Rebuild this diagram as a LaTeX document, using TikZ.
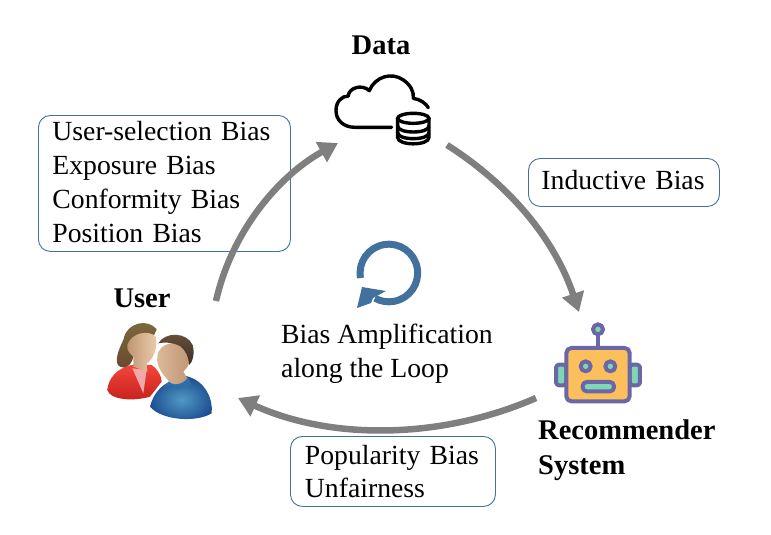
\documentclass[tikz,border=0pt]{standalone}
\usepackage{fontspec}
\setmainfont{Liberation Serif}
\usetikzlibrary{arrows.meta}
\definecolor{boxblue}{HTML}{41719C}
\definecolor{flowgray}{HTML}{7F7F7F}
\definecolor{robotline}{HTML}{6B66A6}
\definecolor{robotbody}{HTML}{FBBF5C}
\definecolor{robotgreen}{HTML}{7FD6B5}
\definecolor{redtop}{HTML}{F5453A}
\definecolor{redbot}{HTML}{C4201C}
\definecolor{pinkshirt}{HTML}{F2A8A8}
\definecolor{hairtop}{HTML}{7F6A3E}
\definecolor{hairbot}{HTML}{65492F}
\definecolor{skinlight}{HTML}{EFCFAE}
\definecolor{skindark}{HTML}{BD9572}
\definecolor{manskin}{HTML}{DDBA99}
\definecolor{blueinner}{HTML}{4F9AC4}
\definecolor{blueouter}{HTML}{1F4F92}
\definecolor{collarblue}{HTML}{2F6FA8}
\definecolor{manhairtop}{HTML}{6B5038}
\definecolor{manhairbot}{HTML}{3A2F28}
\tikzset{
  x=1pt,y=-1pt,
  tagbox/.style={draw=boxblue,line width=0.9pt,rounded corners=12pt,anchor=north west,align=left,inner sep=0pt,
    font=\fontsize{27.7}{33.8}\selectfont},
  plainlabel/.style={align=left,inner sep=0pt,font=\fontsize{27.7}{33.8}\selectfont},
  boldlabel/.style={align=left,inner sep=0pt,font=\bfseries\fontsize{28.5}{35}\selectfont},
  flow/.style={draw=flowgray,line width=6.5pt,-{Triangle[length=19pt,width=22pt]}},
  zoomed/.style={x=0.3333pt,y=-0.3333pt},
  robotpart/.style={draw=robotline,line width=4pt,line join=round},
  iconline/.style={black,line width=3.4pt},
}
\begin{document}
\begin{tikzpicture}
\useasboundingbox (0,0) rectangle (771,535);

% text boxes
\node[tagbox,minimum width=252pt,minimum height=136pt,text width=224pt] (selection) at (38,115)
  {User-selection Bias\\Exposure Bias\\Conformity Bias\\Position Bias\par\kern3pt};
\node[tagbox,minimum width=191pt,minimum height=48pt,text width=165pt] (inductive) at (528,158)
  {Inductive Bias\par\kern4pt};
\node[tagbox,minimum width=205pt,minimum height=70pt,text width=176pt] (popularity) at (290,436)
  {Popularity Bias\\Unfairness};

% labels
\node[boldlabel] (datalabel) at (381,45) {Data};
\node[boldlabel] (userlabel) at (142,298) {User};
\node[boldlabel,anchor=west] (reclabel) at (538,450) {Recommender\\System};
\node[plainlabel,anchor=west] (looplabel) at (281,354) {Bias Amplification\\along the Loop};

% connector ends
\coordinate (userOut) at (216,301);
\coordinate (dataIn) at (338,143);
\coordinate (dataOut) at (447,145);
\coordinate (recIn) at (579,312);
\coordinate (recOut) at (536,398);
\coordinate (userIn) at (238,398);
\draw[flow] (userOut) .. controls (232,230) and (280,175) .. (dataIn);
\draw[flow] (dataOut) .. controls (510,185) and (555,240) .. (recIn);
\draw[flow] (recOut) .. controls (440,440) and (330,440) .. (userIn);

% loop symbol
\draw[boxblue,line width=7pt] (360.5,278) arc[start angle=190,end angle=-119,radius=28.8pt];
\fill[boxblue] (357,308) -- (362,287) -- (386,291) -- (373,298) -- (371,303) -- cycle;

% data icon
\begin{scope}[shift={(320pt,-20pt)},zoomed]
  \draw[iconline,line cap=round,line join=round]
    (215,322) -- (105,322) .. controls (70,322) and (48,300) .. (48,272)
    .. controls (48,245) and (65,228) .. (85,228)
    .. controls (85,205) and (125,190) .. (148,212)
    .. controls (165,170) and (215,155) .. (250,180)
    .. controls (272,195) and (282,215) .. (280,235)
    .. controls (300,238) and (318,250) .. (325,263);
  \draw[iconline,fill=white] (233,295) -- (233,352) .. controls (233,378) and (327,378) .. (327,352) -- (327,295);
  \draw[iconline] (280,295) ellipse[x radius=47,y radius=15];
  \draw[iconline] (233,318) .. controls (233,342) and (327,342) .. (327,318);
  \draw[iconline] (233,338) .. controls (233,362) and (327,362) .. (327,338);
\end{scope}

% robot icon
\begin{scope}[shift={(530pt,-300pt)},zoomed]
  \draw[robotline,line width=4pt] (204,100) -- (204,143);
  \filldraw[robotpart,fill=robotgreen] (204,88) circle[radius=15];
  \filldraw[robotpart,fill=robotgreen,rounded corners=3pt] (78,194) rectangle (109,256);
  \filldraw[robotpart,fill=robotgreen,rounded corners=3pt] (299,194) rectangle (330,256);
  \filldraw[robotpart,fill=robotbody,rounded corners=5pt] (109,144) rectangle (299,304);
  \filldraw[robotpart,fill=robotgreen] (167,199) circle[radius=15];
  \filldraw[robotpart,fill=robotgreen] (241,199) circle[radius=15];
  \filldraw[robotpart,fill=robotgreen,rounded corners=4pt] (158,246) rectangle (252,274);
\end{scope}

% user icon
\begin{scope}[shift={(90pt,-300pt)},zoomed]
  % woman
  \shade[top color=redtop,bottom color=redbot]
    (52,270) .. controls (55,235) and (80,205) .. (125,195)
    -- (185,195) .. controls (205,210) and (215,230) .. (215,245)
    -- (180,290) .. controls (130,305) and (60,300) .. (52,270) -- cycle;
  \fill[pinkshirt] (127,205) -- (160,280) -- (170,210) -- cycle;
  \shade[top color=hairtop,bottom color=hairbot]
    (100,120) .. controls (110,65) and (175,55) .. (200,88)
    -- (190,110) -- (130,170) .. controls (125,195) and (105,210) .. (90,200)
    .. controls (70,190) and (85,150) .. (100,120) -- cycle;
  \shade[left color=skindark,right color=skinlight]
    (112,135) .. controls (125,95) and (180,90) .. (197,110)
    .. controls (205,140) and (190,180) .. (170,190)
    -- (172,215) -- (130,200) -- (130,170) .. controls (118,160) and (110,150) .. (112,135) -- cycle;
  % man
  \shade[inner color=blueinner,outer color=blueouter]
    (180,320) .. controls (190,280) and (215,255) .. (240,245)
    -- (295,230) .. controls (345,245) and (370,295) .. (365,340)
    .. controls (320,368) and (215,362) .. (180,320) -- cycle;
  \fill[collarblue] (222,262) -- (240,240) -- (292,228) -- (305,255) -- (262,270) -- (245,255) -- cycle;
  \shade[left color=manskin,right color=skindark]
    (202,170) .. controls (205,125) and (270,115) .. (302,150)
    .. controls (305,190) and (290,205) .. (280,215)
    -- (292,235) .. controls (275,255) and (245,260) .. (232,238)
    .. controls (220,225) and (198,200) .. (202,170) -- cycle;
  \shade[top color=manhairtop,bottom color=manhairbot]
    (205,130) .. controls (225,95) and (290,95) .. (308,135)
    .. controls (315,160) and (308,185) .. (298,195)
    .. controls (295,170) and (287,150) .. (270,138)
    .. controls (250,128) and (225,125) .. (205,130) -- cycle;
\end{scope}
\end{tikzpicture}
\end{document}
